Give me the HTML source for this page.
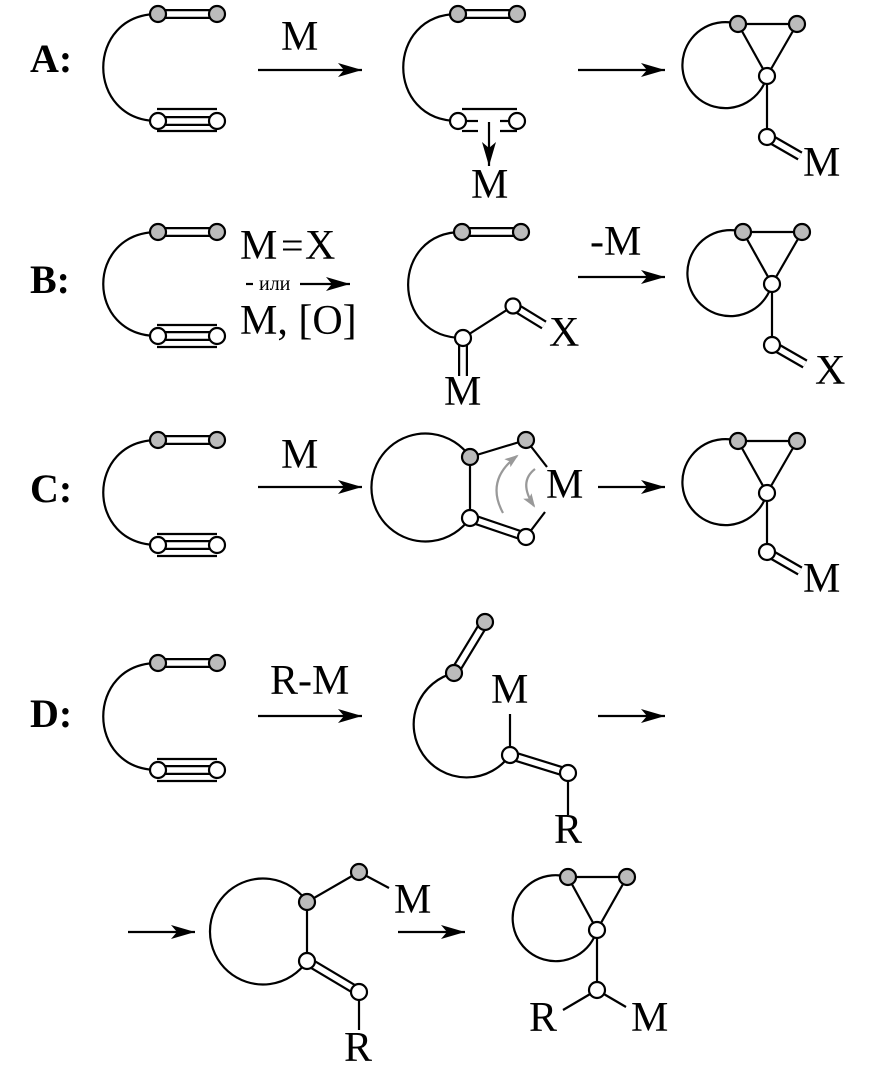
<!DOCTYPE html>
<html><head><meta charset="utf-8"><style>
html,body{margin:0;padding:0;background:#fff;}
svg{display:block;}
text{font-family:"Liberation Serif",serif;fill:#000;}
</style></head><body>
<svg width="875" height="1082" viewBox="0 0 875 1082" xmlns="http://www.w3.org/2000/svg">
<defs>
<marker id="ah" viewBox="0 0 24 14" refX="24" refY="7" markerWidth="24" markerHeight="14" markerUnits="userSpaceOnUse" orient="auto">
<path d="M0,0 L24,7 L0,14 L6,7 Z" fill="#000"/>
</marker>
<marker id="ahg" viewBox="0 0 14 10" refX="12" refY="5" markerWidth="14" markerHeight="10" markerUnits="userSpaceOnUse" orient="auto">
<path d="M0,0 L14,5 L0,10 L3,5 Z" fill="#999"/>
</marker>
</defs>
<g stroke="#000" stroke-width="2.2" fill="none">

<g>
<text x="30" y="72" font-size="40" font-weight="bold" stroke="none">A:</text>
<text x="30" y="293" font-size="40" font-weight="bold" stroke="none">B:</text>
<text x="30" y="502" font-size="40" font-weight="bold" stroke="none">C:</text>
<text x="30" y="727" font-size="40" font-weight="bold" stroke="none">D:</text>
</g>

<!-- ===== Row A ===== -->
<path d="M158,14 C85,14 85,121 158,121"/>
<line x1="158" y1="14" x2="217" y2="14" stroke-width="10"/><line x1="158" y1="14" x2="217" y2="14" stroke="#fff" stroke-width="5.6"/>
<line x1="158" y1="121" x2="217" y2="121" stroke-width="10"/><line x1="158" y1="121" x2="217" y2="121" stroke="#fff" stroke-width="5.6"/>
<line x1="157" y1="109" x2="217" y2="109"/><line x1="157" y1="131" x2="217" y2="131"/>
<circle cx="158" cy="14" r="8" fill="#bbb"/><circle cx="217" cy="14" r="8" fill="#bbb"/>
<circle cx="158" cy="121" r="8" fill="#fff"/><circle cx="217" cy="121" r="8" fill="#fff"/>

<line x1="258" y1="70" x2="362" y2="70" marker-end="url(#ah)"/>
<text x="281" y="50" font-size="42" stroke="none">M</text>

<path d="M458,14 C385,14 385,121 458,121"/>
<line x1="458" y1="14" x2="517" y2="14" stroke-width="10"/><line x1="458" y1="14" x2="517" y2="14" stroke="#fff" stroke-width="5.6"/>
<line x1="462" y1="109" x2="517" y2="109"/>
<line x1="462" y1="121" x2="478" y2="121"/><line x1="500" y1="121" x2="517" y2="121"/>
<line x1="462" y1="131" x2="478" y2="131"/><line x1="500" y1="131" x2="517" y2="131"/>
<circle cx="458" cy="14" r="8" fill="#bbb"/><circle cx="517" cy="14" r="8" fill="#bbb"/>
<circle cx="458" cy="121" r="8" fill="#fff"/><circle cx="517" cy="121" r="8" fill="#fff"/>
<line x1="489" y1="122" x2="489" y2="166" marker-end="url(#ah)"/>
<text x="471" y="198" font-size="42" stroke="none">M</text>

<line x1="578" y1="70" x2="665" y2="70" marker-end="url(#ah)"/>

<path d="M738,24 A43,43 0 1 0 767,76"/>
<line x1="738" y1="24" x2="797" y2="24"/><line x1="738" y1="24" x2="767" y2="76"/><line x1="797" y1="24" x2="767" y2="76"/>
<line x1="767" y1="76" x2="767" y2="137"/>
<line x1="767" y1="137" x2="800" y2="156" stroke-width="10"/><line x1="767" y1="137" x2="800" y2="156" stroke="#fff" stroke-width="5.6"/>
<circle cx="738" cy="24" r="8" fill="#bbb"/><circle cx="797" cy="24" r="8" fill="#bbb"/>
<circle cx="767" cy="76" r="8" fill="#fff"/><circle cx="767" cy="137" r="8" fill="#fff"/>
<text x="803" y="176" font-size="42" stroke="none">M</text>

<!-- ===== Row B ===== -->
<path d="M158,232 C85,232 85,336 158,336"/>
<line x1="158" y1="232" x2="217" y2="232" stroke-width="10"/><line x1="158" y1="232" x2="217" y2="232" stroke="#fff" stroke-width="5.6"/>
<line x1="158" y1="336" x2="217" y2="336" stroke-width="10"/><line x1="158" y1="336" x2="217" y2="336" stroke="#fff" stroke-width="5.6"/>
<line x1="157" y1="325" x2="217" y2="325"/><line x1="157" y1="347" x2="217" y2="347"/>
<circle cx="158" cy="232" r="8" fill="#bbb"/><circle cx="217" cy="232" r="8" fill="#bbb"/>
<circle cx="158" cy="336" r="8" fill="#fff"/><circle cx="217" cy="336" r="8" fill="#fff"/>

<text x="240" y="259" font-size="42" stroke="none">M</text>
<text x="281" y="259" font-size="40" stroke="none">=</text>
<text x="305" y="259" font-size="42" stroke="none">X</text>
<line x1="246" y1="284" x2="253" y2="284"/>
<text x="259" y="290" font-size="20" stroke="none">или</text>
<line x1="300" y1="284" x2="350" y2="284" marker-end="url(#ah)"/>
<text x="240" y="334" font-size="42" stroke="none">M, [O]</text>

<path d="M462,232 C390,232 390,338 463,338"/>
<line x1="462" y1="232" x2="521" y2="232" stroke-width="10"/><line x1="462" y1="232" x2="521" y2="232" stroke="#fff" stroke-width="5.6"/>
<line x1="463" y1="338" x2="513" y2="306"/>
<line x1="513" y1="306" x2="544" y2="325" stroke-width="10"/><line x1="513" y1="306" x2="544" y2="325" stroke="#fff" stroke-width="5.6"/>
<line x1="463" y1="338" x2="463" y2="376" stroke-width="10"/><line x1="463" y1="338" x2="463" y2="377" stroke="#fff" stroke-width="5.6"/>
<circle cx="462" cy="232" r="8" fill="#bbb"/><circle cx="521" cy="232" r="8" fill="#bbb"/>
<circle cx="463" cy="338" r="8" fill="#fff"/><circle cx="513" cy="306" r="7.5" fill="#fff"/>
<text x="549" y="346" font-size="42" stroke="none">X</text>
<text x="444" y="405" font-size="42" stroke="none">M</text>

<text x="590" y="255" font-size="42" stroke="none">-M</text>
<line x1="578" y1="277" x2="665" y2="277" marker-end="url(#ah)"/>

<path d="M743,232 A43,43 0 1 0 772,284"/>
<line x1="743" y1="232" x2="802" y2="232"/><line x1="743" y1="232" x2="772" y2="284"/><line x1="802" y1="232" x2="772" y2="284"/>
<line x1="772" y1="284" x2="772" y2="345"/>
<line x1="772" y1="345" x2="805" y2="364" stroke-width="10"/><line x1="772" y1="345" x2="805" y2="364" stroke="#fff" stroke-width="5.6"/>
<circle cx="743" cy="232" r="8" fill="#bbb"/><circle cx="802" cy="232" r="8" fill="#bbb"/>
<circle cx="772" cy="284" r="8" fill="#fff"/><circle cx="772" cy="345" r="8" fill="#fff"/>
<text x="815" y="384" font-size="42" stroke="none">X</text>

<!-- ===== Row C ===== -->
<path d="M158,440 C85,440 85,545 158,545"/>
<line x1="158" y1="440" x2="217" y2="440" stroke-width="10"/><line x1="158" y1="440" x2="217" y2="440" stroke="#fff" stroke-width="5.6"/>
<line x1="158" y1="545" x2="217" y2="545" stroke-width="10"/><line x1="158" y1="545" x2="217" y2="545" stroke="#fff" stroke-width="5.6"/>
<line x1="157" y1="534" x2="217" y2="534"/><line x1="157" y1="556" x2="217" y2="556"/>
<circle cx="158" cy="440" r="8" fill="#bbb"/><circle cx="217" cy="440" r="8" fill="#bbb"/>
<circle cx="158" cy="545" r="8" fill="#fff"/><circle cx="217" cy="545" r="8" fill="#fff"/>

<line x1="258" y1="487" x2="362" y2="487" marker-end="url(#ah)"/>
<text x="281" y="468" font-size="42" stroke="none">M</text>

<path d="M470,457 A54,54 0 1 0 470,518"/>
<line x1="470" y1="457" x2="470" y2="518"/>
<line x1="470" y1="457" x2="526" y2="440"/>
<line x1="526" y1="440" x2="547" y2="467"/>
<line x1="545" y1="512" x2="526" y2="537"/>
<line x1="470" y1="518" x2="526" y2="537" stroke-width="10"/><line x1="470" y1="518" x2="526" y2="537" stroke="#fff" stroke-width="5.6"/>
<circle cx="470" cy="457" r="8" fill="#bbb"/><circle cx="526" cy="440" r="8" fill="#bbb"/>
<circle cx="470" cy="518" r="8" fill="#fff"/><circle cx="526" cy="537" r="8" fill="#fff"/>
<path d="M503,513 Q485,480 517,456" stroke="#999" stroke-width="2.2" marker-end="url(#ahg)"/>
<path d="M535,469 Q518,482 534,506" stroke="#999" stroke-width="2.2" marker-end="url(#ahg)"/>
<text x="546" y="498" font-size="42" stroke="none">M</text>
<line x1="598" y1="487" x2="665" y2="487" marker-end="url(#ah)"/>

<path d="M738,441 A43,43 0 1 0 767,493"/>
<line x1="738" y1="441" x2="797" y2="441"/><line x1="738" y1="441" x2="767" y2="493"/><line x1="797" y1="441" x2="767" y2="493"/>
<line x1="767" y1="493" x2="767" y2="552"/>
<line x1="767" y1="552" x2="800" y2="571" stroke-width="10"/><line x1="767" y1="552" x2="800" y2="571" stroke="#fff" stroke-width="5.6"/>
<circle cx="738" cy="441" r="8" fill="#bbb"/><circle cx="797" cy="441" r="8" fill="#bbb"/>
<circle cx="767" cy="493" r="8" fill="#fff"/><circle cx="767" cy="552" r="8" fill="#fff"/>
<text x="803" y="592" font-size="42" stroke="none">M</text>

<!-- ===== Row D ===== -->
<path d="M158,663 C85,663 85,770 158,770"/>
<line x1="158" y1="663" x2="217" y2="663" stroke-width="10"/><line x1="158" y1="663" x2="217" y2="663" stroke="#fff" stroke-width="5.6"/>
<line x1="158" y1="770" x2="217" y2="770" stroke-width="10"/><line x1="158" y1="770" x2="217" y2="770" stroke="#fff" stroke-width="5.6"/>
<line x1="157" y1="759" x2="217" y2="759"/><line x1="157" y1="781" x2="217" y2="781"/>
<circle cx="158" cy="663" r="8" fill="#bbb"/><circle cx="217" cy="663" r="8" fill="#bbb"/>
<circle cx="158" cy="770" r="8" fill="#fff"/><circle cx="217" cy="770" r="8" fill="#fff"/>

<text x="270" y="694" font-size="42" stroke="none">R-M</text>
<line x1="258" y1="716" x2="362" y2="716" marker-end="url(#ah)"/>

<line x1="485" y1="622" x2="454" y2="673" stroke-width="10"/><line x1="485" y1="622" x2="454" y2="673" stroke="#fff" stroke-width="5.6"/>
<path d="M454,673 A53,53 0 1 0 510,755"/>
<line x1="510" y1="714" x2="510" y2="750"/>
<line x1="510" y1="755" x2="568" y2="773" stroke-width="10"/><line x1="510" y1="755" x2="568" y2="773" stroke="#fff" stroke-width="5.6"/>
<line x1="568" y1="773" x2="568" y2="815"/>
<circle cx="485" cy="622" r="8" fill="#bbb"/><circle cx="454" cy="673" r="8" fill="#bbb"/>
<circle cx="510" cy="755" r="8" fill="#fff"/><circle cx="568" cy="773" r="8" fill="#fff"/>
<text x="491" y="703" font-size="42" stroke="none">M</text>
<text x="554" y="843" font-size="42" stroke="none">R</text>
<line x1="598" y1="716" x2="665" y2="716" marker-end="url(#ah)"/>

<!-- ===== Row E ===== -->
<line x1="128" y1="932" x2="195" y2="932" marker-end="url(#ah)"/>
<path d="M307,902 A53,53 0 1 0 307,961"/>
<line x1="307" y1="902" x2="307" y2="961"/>
<line x1="307" y1="902" x2="359" y2="872"/>
<line x1="359" y1="872" x2="389" y2="888"/>
<line x1="307" y1="961" x2="359" y2="992" stroke-width="10"/><line x1="307" y1="961" x2="359" y2="992" stroke="#fff" stroke-width="5.6"/>
<line x1="359" y1="992" x2="359" y2="1030"/>
<circle cx="307" cy="902" r="8" fill="#bbb"/><circle cx="359" cy="872" r="8" fill="#bbb"/>
<circle cx="307" cy="961" r="8" fill="#fff"/><circle cx="359" cy="992" r="8" fill="#fff"/>
<text x="394" y="913" font-size="42" stroke="none">M</text>
<text x="344" y="1061" font-size="42" stroke="none">R</text>
<line x1="398" y1="932" x2="465" y2="932" marker-end="url(#ah)"/>

<path d="M568,877 A43,43 0 1 0 597,930"/>
<line x1="568" y1="877" x2="627" y2="877"/><line x1="568" y1="877" x2="597" y2="930"/><line x1="627" y1="877" x2="597" y2="930"/>
<line x1="597" y1="930" x2="597" y2="990"/>
<line x1="597" y1="990" x2="563" y2="1010"/><line x1="597" y1="990" x2="626" y2="1007"/>
<circle cx="568" cy="877" r="8" fill="#bbb"/><circle cx="627" cy="877" r="8" fill="#bbb"/>
<circle cx="597" cy="930" r="8" fill="#fff"/><circle cx="597" cy="990" r="8" fill="#fff"/>
<text x="529" y="1031" font-size="42" stroke="none">R</text>
<text x="631" y="1031" font-size="42" stroke="none">M</text>
</g>
</svg>
</body></html>
